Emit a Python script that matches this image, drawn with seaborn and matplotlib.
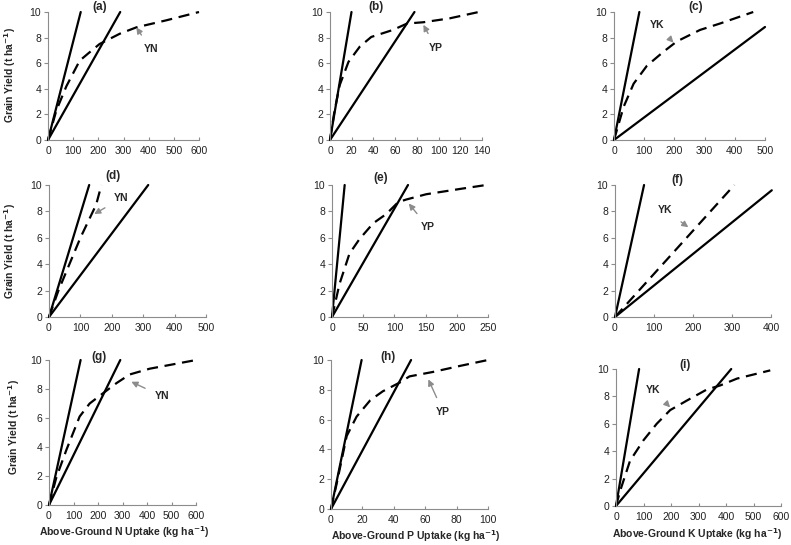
import numpy as np
import pandas as pd
import seaborn as sns
import matplotlib.pyplot as plt

# Panel data: two solid boundary lines and a dashed yield curve per panel
A_STEEP_X = [0, 130];  A_STEEP_Y = [0, 10]
A_SHALLOW_X = [0, 287]; A_SHALLOW_Y = [0, 10]
A_CURVE_X = [0, 33, 73, 126, 159, 205, 245, 285, 351, 470, 600]
A_CURVE_Y = [0, 2.3, 4.2, 6.2, 6.75, 7.5, 7.9, 8.3, 8.8, 9.35, 10]

B_STEEP_X = [0, 19.8]; B_STEEP_Y = [0, 10]
B_SHALLOW_X = [0, 77.8]; B_SHALLOW_Y = [0, 10]
B_CURVE_X = [0, 4, 9, 17, 27.5, 38, 58, 71, 86, 110, 137]
B_CURVE_Y = [0, 2.2, 4.3, 6.1, 7.3, 8.05, 8.6, 9.1, 9.2, 9.5, 10]

C_STEEP_X = [0, 84]; C_STEEP_Y = [0, 10]
C_SHALLOW_X = [0, 500]; C_SHALLOW_Y = [0, 8.83]
C_CURVE_X = [0, 32, 65, 109, 164, 208, 285, 351, 461]
C_CURVE_Y = [0, 2.6, 4.4, 5.8, 6.9, 7.7, 8.6, 9.1, 10]

D_STEEP_X = [0, 128]; D_STEEP_Y = [0, 10]
D_SHALLOW_X = [0, 316]; D_SHALLOW_Y = [0, 10]
D_CURVE_X = [0, 30, 65, 100, 130, 150, 167]
D_CURVE_Y = [0, 2, 4, 6, 7.5, 8.5, 10]

E_STEEP_X = [0, 20.3]; E_STEEP_Y = [0, 10]
E_SHALLOW_X = [0, 121.8]; E_SHALLOW_Y = [0, 10]
E_CURVE_X = [0, 12, 28, 44, 66, 87, 106, 119, 151, 205, 247]
E_CURVE_Y = [0, 2.5, 4.8, 5.9, 7.1, 7.8, 8.7, 8.9, 9.3, 9.7, 10]

F_STEEP_X = [0, 74.5]; F_STEEP_Y = [0, 10]
F_SHALLOW_X = [0, 402]; F_SHALLOW_Y = [0, 9.6]
F_CURVE_X = [0, 306]
F_CURVE_Y = [0, 10]

G_STEEP_X = [0, 129]; G_STEEP_Y = [0, 10]
G_SHALLOW_X = [0, 291]; G_SHALLOW_Y = [0, 10]
G_CURVE_X = [0, 30, 71, 125, 166, 220, 275, 329, 411, 601]
G_CURVE_Y = [0, 1.9, 3.8, 6.1, 7.0, 7.7, 8.4, 9.0, 9.4, 10]

H_STEEP_X = [0, 19.5]; H_STEEP_Y = [0, 10]
H_SHALLOW_X = [0, 51]; H_SHALLOW_Y = [0, 10]
H_CURVE_X = [0, 3.6, 10, 16.3, 25, 33, 44, 50, 65, 82, 100]
H_CURVE_Y = [0, 1.7, 4.9, 6.2, 7.3, 7.9, 8.5, 8.9, 9.2, 9.6, 10]

I_STEEP_X = [0, 84]; I_STEEP_Y = [0, 10]
I_SHALLOW_X = [0, 419]; I_SHALLOW_Y = [0, 10]
I_CURVE_X = [0, 15, 51, 100, 148, 197, 258, 330, 379, 440, 561]
I_CURVE_Y = [0, 1.1, 3.3, 4.8, 6.0, 7.0, 7.7, 8.5, 8.8, 9.3, 9.9]

sns.set_style("ticks")
plt.rcParams['font.family'] = ['Liberation Sans', 'DejaVu Sans']

W, H = 791, 545
fig = plt.figure(figsize=(W / 100, H / 100), dpi=100)


def rect(left, right, top, bottom):
    return [left / W, 1 - bottom / H, (right - left) / W, (bottom - top) / H]


def panel(r, steep, shallow, curve, xmax, xstep, tag, tag_x, tag_y,
          label, text_xy, head_xy):
    ax = fig.add_axes(r)
    for (x, y) in (steep, shallow):
        sns.lineplot(x=x, y=y, ax=ax, color='black', linewidth=1.6,
                     sort=False, estimator=None, clip_on=False)
    sns.lineplot(x=curve[0], y=curve[1], ax=ax, color='black', linewidth=1.6,
                 sort=False, estimator=None, clip_on=False,
                 dashes=False, linestyle=(0, (5, 3)))
    ax.set_xlim(0, xmax)
    ax.set_ylim(0, 10)
    ax.set_xticks(np.arange(0, xmax + 1, xstep))
    ax.set_yticks([0, 2, 4, 6, 8, 10])
    for s in ('top', 'right'):
        ax.spines[s].set_visible(False)
    for s in ('left', 'bottom'):
        ax.spines[s].set_color('#8c8c8c')
        ax.spines[s].set_linewidth(0.8)
    ax.tick_params(labelsize=7.5, colors='#8c8c8c', labelcolor='#222222',
                   length=3, width=0.8, pad=2)
    ax.tick_params(axis='x', direction='in', length=2.5, pad=4)
    ax.set_xlabel('')
    ax.set_ylabel('')
    ax.text(tag_x, tag_y, tag, transform=ax.transAxes, ha='center',
            va='center', fontsize=8.5, fontweight='bold')
    ax.annotate(label, xy=head_xy, xytext=text_xy, fontsize=7.5,
                fontweight='bold', ha='center', va='center',
                arrowprops=dict(arrowstyle='-|>', color='#8c8c8c', lw=1.0,
                                mutation_scale=9, shrinkA=5, shrinkB=0))
    return ax


panel(rect(48, 199, 12, 140), (A_STEEP_X, A_STEEP_Y), (A_SHALLOW_X, A_SHALLOW_Y),
      (A_CURVE_X, A_CURVE_Y), 600, 100, '(a)', 0.34, 1.04, 'YN', (408, 7.1), (351, 8.8))
panel(rect(330, 482, 12, 140), (B_STEEP_X, B_STEEP_Y), (B_SHALLOW_X, B_SHALLOW_Y),
      (B_CURVE_X, B_CURVE_Y), 140, 20, '(b)', 0.30, 1.04, 'YP', (97.5, 7.2), (86, 9.0))
panel(rect(614, 765, 12, 140), (C_STEEP_X, C_STEEP_Y), (C_SHALLOW_X, C_SHALLOW_Y),
      (C_CURVE_X, C_CURVE_Y), 500, 100, '(c)', 0.54, 1.04, 'YK', (142, 9.0), (197, 7.6))
panel(rect(49, 206, 185, 317), (D_STEEP_X, D_STEEP_Y), (D_SHALLOW_X, D_SHALLOW_Y),
      (D_CURVE_X, D_CURVE_Y), 500, 100, '(d)', 0.41, 1.07, 'YN', (231, 9.0), (144, 7.8))
panel(rect(332, 488, 185, 317), (E_STEEP_X, E_STEEP_Y), (E_SHALLOW_X, E_SHALLOW_Y),
      (E_CURVE_X, E_CURVE_Y), 250, 50, '(e)', 0.31, 1.05, 'YP', (154, 6.8), (123, 8.6))
panel(rect(615, 771, 185, 317), (F_STEEP_X, F_STEEP_Y), (F_SHALLOW_X, F_SHALLOW_Y),
      (F_CURVE_X, F_CURVE_Y), 400, 100, '(f)', 0.40, 1.04, 'YK', (128, 8.1), (188, 6.8))
panel(rect(49, 196, 360, 505), (G_STEEP_X, G_STEEP_Y), (G_SHALLOW_X, G_SHALLOW_Y),
      (G_CURVE_X, G_CURVE_Y), 600, 100, '(g)', 0.34, 1.02, 'YN', (461, 7.5), (336, 8.5))
panel(rect(331, 488, 360, 509), (H_STEEP_X, H_STEEP_Y), (H_SHALLOW_X, H_SHALLOW_Y),
      (H_CURVE_X, H_CURVE_Y), 100, 20, '(h)', 0.36, 1.02, 'YP', (71.5, 6.5), (62, 8.7))
panel(rect(616, 781, 369, 506), (I_STEEP_X, I_STEEP_Y), (I_SHALLOW_X, I_SHALLOW_Y),
      (I_CURVE_X, I_CURVE_Y), 600, 100, '(i)', 0.42, 1.03, 'YK', (134, 8.5), (197, 7.2))

# shared axis labels
ylab = 'Grain Yield (t ha$^{\\mathbf{-1}}$)'
for yc, xc in ((75, 10), (251, 10), (427, 14)):
    fig.text(xc / W, 1 - yc / H, ylab, rotation=90, ha='center', va='center',
             fontsize=7.5, fontweight='bold')
for xc, yc, nut in ((124, 532, 'N'), (416, 536, 'P'), (697, 534, 'K')):
    fig.text(xc / W, 1 - yc / H, 'Above-Ground %s Uptake (kg ha$^{\\mathbf{-1}}$)' % nut,
             ha='center', va='center', fontsize=7.5, fontweight='bold')

fig.savefig('out.png', dpi=100)
